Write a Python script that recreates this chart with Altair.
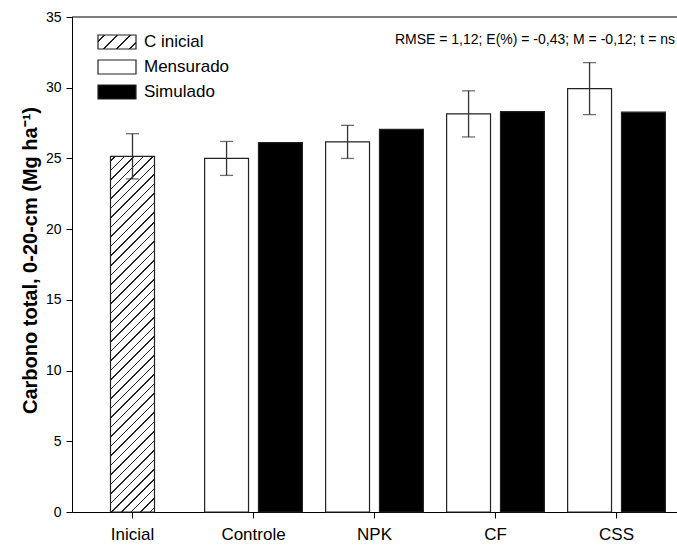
import altair as alt
import pandas as pd

# ---- data ----
categories = ["Inicial", "Controle", "NPK", "CF", "CSS"]
treatments = ["Controle", "NPK", "CF", "CSS"]
series_names = ["C inicial", "Mensurado", "Simulado"]
c_inicial = [25.15]
c_inicial_err = [1.6]
mensurado = [25.0, 26.17, 28.15, 29.94]
mensurado_err = [1.2, 1.17, 1.63, 1.84]
simulado = [26.12, 27.06, 28.31, 28.27]
y_ticks = [0, 5, 10, 15, 20, 25, 30, 35]
annotation = ["RMSE = 1,12; E(%) = -0,43; M = -0,12; t = ns"]
y_title = "Carbono total, 0-20-cm (Mg ha\u207b\u00b9)"

df_ini = pd.DataFrame({
    "cat": ["Inicial"],
    "serie": ["C inicial"],
    "valor": c_inicial,
    "lo": [v - e for v, e in zip(c_inicial, c_inicial_err)],
    "hi": [v + e for v, e in zip(c_inicial, c_inicial_err)],
})
df_trt = pd.DataFrame({
    "cat": treatments + treatments,
    "serie": ["Mensurado"] * len(treatments) + ["Simulado"] * len(treatments),
    "valor": mensurado + simulado,
})
df_err = pd.DataFrame({
    "cat": treatments,
    "serie": ["Mensurado"] * len(treatments),
    "lo": [v - e for v, e in zip(mensurado, mensurado_err)],
    "hi": [v + e for v, e in zip(mensurado, mensurado_err)],
})
df_note = pd.DataFrame({"t": annotation})
df_frame = pd.DataFrame({"k": [0]})

# ---- hatch fills (diagonal stripes built from hard-edged gradients) ----
def stripe_stops(n, frac):
    stops = [{"offset": 0.0, "color": "white"}]
    for i in range(n):
        c = (i + 0.5) / n
        d = frac / n / 2
        stops += [
            {"offset": round(c - d, 5), "color": "white"},
            {"offset": round(c - d, 5), "color": "#222"},
            {"offset": round(c + d, 5), "color": "#222"},
            {"offset": round(c + d, 5), "color": "white"},
        ]
    stops.append({"offset": 1.0, "color": "white"})
    return stops

bar_hatch = {
    "gradient": "linear", "x1": 0, "y1": 0, "x2": 0.137, "y2": 1.107,
    "stops": stripe_stops(42, 0.16),
}
leg_stops = stripe_stops(4, 0.13)
leg_expr = (
    "{gradient:'linear',x1:0,y1:0,x2:1.205,y2:0.444,stops:["
    + ",".join("{offset:%s,color:'%s'}" % (s["offset"], s["color"]) for s in leg_stops)
    + "]}"
)

# ---- shared encodings ----
x_scale = alt.Scale(domain=categories, paddingInner=0.192, paddingOuter=0.096)
x_axis = alt.Axis(title=None, labelAngle=0, labelFontSize=17, tickSize=6,
                  labelPadding=8, grid=False, domainColor="black", tickColor="black",
                  labelColor="black")
y_scale = alt.Scale(domain=[0, 35], nice=False)
y_axis = alt.Axis(values=y_ticks, title=y_title, titleFontSize=20, titleFontWeight="bold",
                  titleX=-42, titleY=243, titleBaseline="middle", titleColor="black",
                  labelFontSize=14, tickSize=6, labelPadding=5, grid=False,
                  domainColor="black", tickColor="black", labelColor="black")
xoff = alt.XOffset("serie:N", scale=alt.Scale(domain=["Mensurado", "Simulado"],
                                              paddingInner=0.185, paddingOuter=0))

def X(field="cat"):
    return alt.X(f"{field}:N", scale=x_scale, axis=x_axis, sort=categories)

def Y(field):
    return alt.Y(f"{field}:Q", scale=y_scale, axis=y_axis)

ini_bar = alt.Chart(df_ini).mark_bar(
    width=alt.RelativeBandSize(0.45), fill=bar_hatch, stroke="#222", strokeWidth=1.2
).encode(x=X(), y=Y("valor"))

trt_bar = alt.Chart(df_trt).mark_bar(stroke="#222", strokeWidth=1.2).encode(
    x=X(), y=Y("valor"), xOffset=xoff,
    color=alt.Color(
        "serie:N",
        scale=alt.Scale(domain=series_names, range=[{"expr": leg_expr}, "white", "black"]),
        legend=alt.Legend(
            title=None, orient="none", legendX=34, legendY=14,
            symbolType="M-1.9,-0.7H1.9V0.7H-1.9Z", symbolSize=400,
            symbolStrokeColor="#222", symbolStrokeWidth=1.2,
            labelFontSize=17, labelColor="black", labelOffset=16,
            rowPadding=4, padding=0,
        ),
    ),
)

err_color = "#333"
ini_rule = alt.Chart(df_ini).mark_rule(color=err_color, strokeWidth=1.3).encode(
    x=X(), y=Y("lo"), y2="hi:Q")
ini_cap_hi = alt.Chart(df_ini).mark_tick(color=err_color, size=13, thickness=1.3).encode(
    x=X(), y=Y("hi"))
ini_cap_lo = alt.Chart(df_ini).mark_tick(color=err_color, size=13, thickness=1.3).encode(
    x=X(), y=Y("lo"))
err_rule = alt.Chart(df_err).mark_rule(color=err_color, strokeWidth=1.3).encode(
    x=X(), xOffset=xoff, y=Y("lo"), y2="hi:Q")
err_cap_hi = alt.Chart(df_err).mark_tick(color=err_color, size=13, thickness=1.3).encode(
    x=X(), xOffset=xoff, y=Y("hi"))
err_cap_lo = alt.Chart(df_err).mark_tick(color=err_color, size=13, thickness=1.3).encode(
    x=X(), xOffset=xoff, y=Y("lo"))

top_line = alt.Chart(df_frame).mark_rule(color="black", strokeWidth=1).encode(
    y=alt.value(0))

note = alt.Chart(df_note).mark_text(
    align="right", baseline="middle", fontSize=14, color="black"
).encode(text="t:N", x=alt.value(603), y=alt.value(23))

chart = alt.layer(
    ini_bar, trt_bar, ini_rule, ini_cap_hi, ini_cap_lo,
    err_rule, err_cap_hi, err_cap_lo, top_line, note
).properties(
    width=605, height=495,
    padding={"left": 72, "top": 17, "right": 0, "bottom": 33},
    autosize=alt.AutoSizeParams(type="none"),
).configure(
    font="Liberation Sans", background="white"
).configure_view(stroke="transparent")

chart.save("out.html", embed_options={"renderer": "svg", "actions": False})
